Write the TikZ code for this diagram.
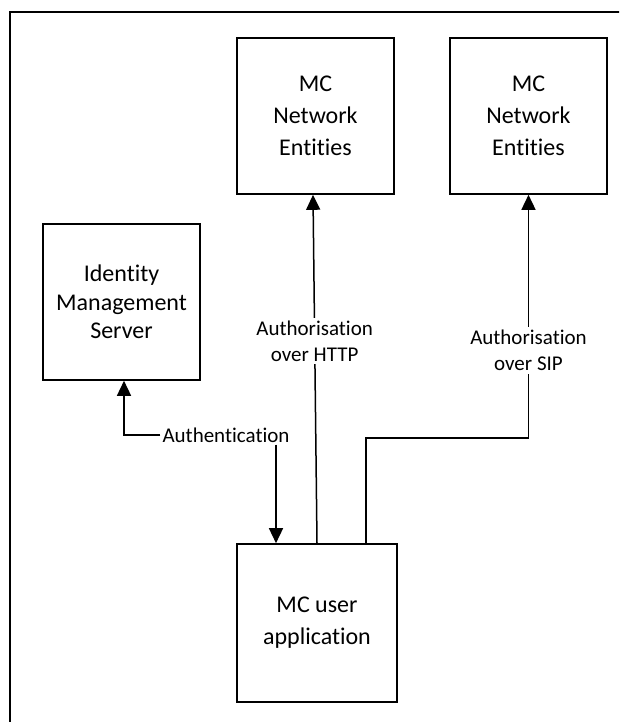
\documentclass[tikz,border=0pt]{standalone}
\usepackage{fontspec}
\setmainfont{Carlito}[Ligatures=CommonOff]
\usetikzlibrary{arrows.meta}
\begin{document}
\begin{tikzpicture}[x=1pt,y=-1pt,
  box/.style={draw, line width=1.6pt, minimum width=157pt, minimum height=156pt,
    align=center, inner sep=0pt, font=\fontsize{24}{32}\selectfont},
  lbl/.style={fill=white, align=center, inner sep=3pt, font=\fontsize{21}{26}\selectfont},
  link/.style={line width=1.5pt},
  tip/.style={-{Triangle[length=15pt,width=14pt]}}
]
\useasboundingbox (0,0) rectangle (619,722);
% outer frame, running off the right and bottom edges
\begin{scope}
  \clip (0,0) rectangle (619,722);
  \draw[line width=1.7pt] (660,12) -- (10,12) -- (10,760);
\end{scope}

% entities
\node[box] (ne1) at (315.5,116) {MC\\Network\\Entities};
\node[box] (ne2) at (528.5,116) {MC\\Network\\Entities};
\node[box, font=\fontsize{24}{28.5}\selectfont] (ims) at (121.5,302) {Identity\\Management\\Server};
\node[box, minimum width=160pt, minimum height=158pt] (app) at (317,623) {MC user\\application};

% authentication towards the identity management server
\node[lbl, fill=none, inner sep=2pt] (auth) at (226,435) {Authentication};
\coordinate (authin) at ([xshift=-41pt]app.north);
\draw[link,tip] (auth.west) -| ([xshift=2.5pt]ims.south);
\draw[link,tip] (auth.south -| authin) -- (authin);

% authorisation over HTTP
\draw[link,tip] (app.north) -- node[lbl,pos=0.58] {Authorisation\\over HTTP} ([xshift=-2.5pt]ne1.south);

% authorisation over SIP
\coordinate (sipbend) at (528.5,438);
\draw[link,tip] ([xshift=49pt]app.north) |- (sipbend) -- node[lbl,pos=0.36] {Authorisation\\over SIP} (ne2.south);
\end{tikzpicture}
\end{document}
